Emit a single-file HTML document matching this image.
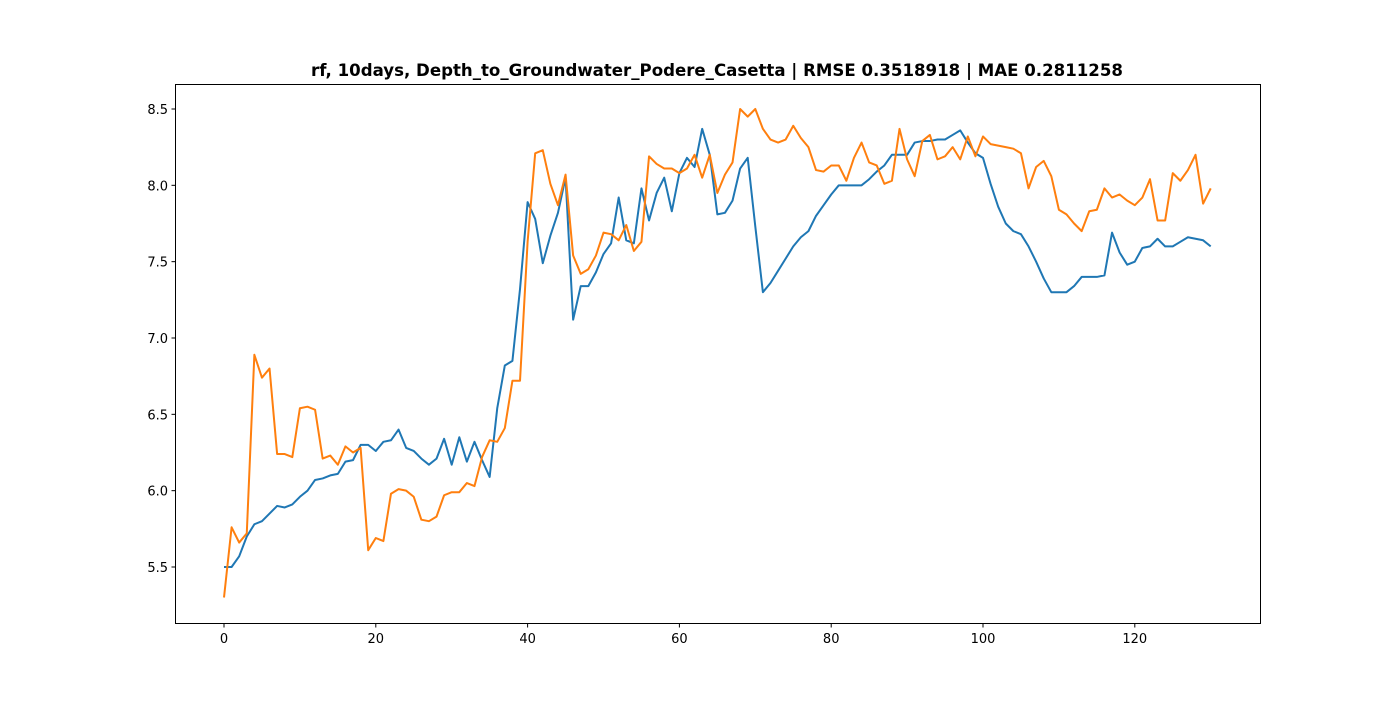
<!DOCTYPE html>
<html><head><meta charset="utf-8"><style>
body{margin:0;background:#fff;}
svg text{font-family:"DejaVu Sans","Liberation Sans",sans-serif;}
</style></head><body>
<svg id="chart" width="1400" height="700" xmlns="http://www.w3.org/2000/svg">
<rect width="1400" height="700" fill="#fff"/>
<text x="717" y="76" text-anchor="middle" font-size="16.6" font-weight="bold">rf, 10days, Depth_to_Groundwater_Podere_Casetta | RMSE 0.3518918 | MAE 0.2811258</text>
<g id="plot"></g>
<rect x="175.5" y="84.5" width="1085" height="539" fill="none" stroke="#000" stroke-width="1"/>
</svg>
<script>
const actual=[5.50,5.50,5.57,5.70,5.78,5.80,5.85,5.90,5.89,5.91,5.96,6.00,6.07,6.08,6.10,6.11,6.19,6.20,6.30,6.30,6.26,6.32,6.33,6.40,6.28,6.26,6.21,6.17,6.21,6.34,6.17,6.35,6.19,6.32,6.20,6.09,6.54,6.82,6.85,7.32,7.89,7.78,7.49,7.67,7.82,8.05,7.12,7.34,7.34,7.43,7.55,7.62,7.92,7.64,7.62,7.98,7.77,7.95,8.05,7.83,8.08,8.18,8.12,8.37,8.20,7.81,7.82,7.90,8.11,8.18,7.73,7.30,7.36,7.44,7.52,7.60,7.66,7.70,7.80,7.87,7.94,8.00,8.00,8.00,8.00,8.04,8.09,8.13,8.20,8.20,8.20,8.28,8.29,8.29,8.30,8.30,8.33,8.36,8.28,8.21,8.18,8.01,7.86,7.75,7.70,7.68,7.60,7.50,7.39,7.30,7.30,7.30,7.34,7.40,7.40,7.40,7.41,7.69,7.56,7.48,7.50,7.59,7.60,7.65,7.60,7.60,7.63,7.66,7.65,7.64,7.60];
const predicted=[5.30,5.76,5.66,5.72,6.89,6.74,6.80,6.24,6.24,6.22,6.54,6.55,6.53,6.21,6.23,6.17,6.29,6.25,6.28,5.61,5.69,5.67,5.98,6.01,6.00,5.96,5.81,5.80,5.83,5.97,5.99,5.99,6.05,6.03,6.22,6.33,6.32,6.41,6.72,6.72,7.63,8.21,8.23,8.01,7.87,8.07,7.54,7.42,7.45,7.54,7.69,7.68,7.64,7.74,7.57,7.63,8.19,8.14,8.11,8.11,8.08,8.11,8.20,8.05,8.20,7.95,8.07,8.15,8.50,8.45,8.50,8.37,8.30,8.28,8.30,8.39,8.31,8.25,8.10,8.09,8.13,8.13,8.03,8.18,8.28,8.15,8.13,8.01,8.03,8.37,8.17,8.06,8.29,8.33,8.17,8.19,8.25,8.17,8.32,8.19,8.32,8.27,8.26,8.25,8.24,8.21,7.98,8.12,8.16,8.06,7.84,7.81,7.75,7.70,7.83,7.84,7.98,7.92,7.94,7.90,7.87,7.92,8.04,7.77,7.77,8.08,8.03,8.10,8.20,7.88,7.98];
const xTicks=[0,20,40,60,80,100,120];
const yTicks=[5.5,6.0,6.5,7.0,7.5,8.0,8.5];
const yLabels=["5.5","6.0","6.5","7.0","7.5","8.0","8.5"];
const xs=v=>224+v*7.59;
const ys=v=>567-(v-5.5)*152.67;
const g=document.getElementById('plot');
const NS='http://www.w3.org/2000/svg';
function mk(t,a){const e=document.createElementNS(NS,t);for(const k in a)e.setAttribute(k,a[k]);g.appendChild(e);return e;}
xTicks.forEach(t=>{
  const l=mk('line',{x1:xs(t),x2:xs(t),y1:623.5,y2:627.5,stroke:'#000'});
  
  
  const tx=mk('text',{x:xs(t),y:643,'text-anchor':'middle','font-size':'13'});
  tx.textContent=t;
  
  
});
yTicks.forEach((t,i)=>{
  const l=mk('line',{x1:171.5,x2:175.5,y1:ys(t),y2:ys(t),stroke:'#000'});
  
  
  const tx=mk('text',{x:168,y:ys(t)+5,'text-anchor':'end','font-size':'13'});
  tx.textContent=yLabels[i];
  
  
});
function line(arr,color,name){
  const p=mk('polyline',{points:arr.map((v,i)=>xs(i)+','+ys(v)).join(' '),fill:'none',stroke:color,'stroke-width':2,'stroke-linejoin':'round'});
  
  
}
line(actual,'#1f77b4','actual-series-line');
line(predicted,'#ff7f0e','predicted-series-line');
</script>
</body></html>
